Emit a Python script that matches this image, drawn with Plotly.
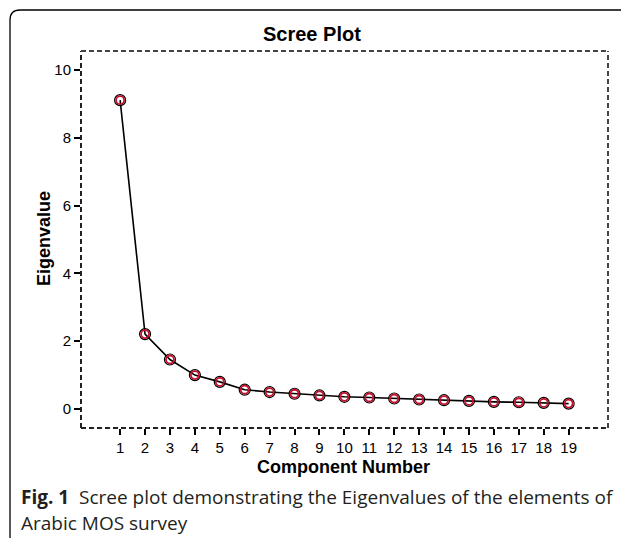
import plotly.graph_objects as go

components = list(range(1, 20))
eigenvalues = [9.11, 2.21, 1.46, 1.00, 0.80, 0.57, 0.50, 0.45, 0.40, 0.36,
               0.34, 0.31, 0.28, 0.26, 0.24, 0.21, 0.20, 0.18, 0.16]
y_ticks = [0, 2, 4, 6, 8, 10]

OFF = 8  # browser body margin
W, H = 629 - OFF * 2, 546 - OFF * 2
L, R, T, B = 81 - OFF, 608 - OFF, 51 - OFF, 428 - OFF  # plot area in figure px


def px(x):  # page px -> paper
    return (x - OFF - L) / (R - L)


def py(y):
    return (B - (y - OFF)) / (B - T)


fig = go.Figure()
fig.add_trace(go.Scatter(
    x=components, y=eigenvalues, mode="lines",
    line=dict(color="black", width=1.6), hoverinfo="skip", showlegend=False))
fig.add_trace(go.Scatter(
    x=components, y=eigenvalues, mode="markers",
    marker=dict(symbol="circle-open", size=11, color="black",
                line=dict(color="black", width=1.2)),
    showlegend=False))
fig.add_trace(go.Scatter(
    x=components, y=eigenvalues, mode="markers",
    marker=dict(symbol="circle-open", size=8, color="#c8102e",
                line=dict(color="#c8102e", width=1.8)),
    showlegend=False))

font = "Liberation Sans, Arial, sans-serif"

fig.update_layout(
    width=W, height=H,
    margin=dict(l=L, r=W - R, t=T, b=H - B),
    paper_bgcolor="white", plot_bgcolor="white",
    font=dict(family=font, color="black"),
    xaxis=dict(
        range=[-0.57, 20.58], tickvals=components, ticktext=[str(c) for c in components],
        ticks="outside", ticklen=6, tickwidth=1.5, tickcolor="black",
        showgrid=False, zeroline=False, showline=False,
        tickfont=dict(family=font, size=15, color="black"),
    ),
    yaxis=dict(
        range=[-0.56, 10.56], tickvals=y_ticks,
        ticks="outside", ticklen=6, tickwidth=1.5, tickcolor="black",
        showgrid=False, zeroline=False, showline=False,
        tickfont=dict(family=font, size=15, color="black"),
    ),
)

dash = "5px,3px"
shapes = []
shapes.append(dict(type="line", xref="paper", yref="paper", x0=0, x1=0, y0=0, y1=1,
                   line=dict(color="#222", width=2, dash=dash)))
shapes.append(dict(type="line", xref="paper", yref="paper", x0=0, x1=1, y0=0, y1=0,
                   line=dict(color="#222", width=2, dash=dash)))
shapes.append(dict(type="line", xref="paper", yref="paper", x0=0, x1=1, y0=1, y1=1,
                   line=dict(color="#444", width=2, dash=dash)))
shapes.append(dict(type="line", xref="paper", yref="paper", x0=1, x1=1, y0=0, y1=1,
                   line=dict(color="#444", width=2, dash=dash)))
# outer rounded frame
path = (f"M {px(640)},{py(10)} L {px(20)},{py(10)} "
        f"Q {px(10)},{py(10)} {px(10)},{py(20)} "
        f"L {px(10)},{py(536)} Q {px(10)},{py(546)} {px(20)},{py(548)}")
shapes.append(dict(type="path", xref="paper", yref="paper", path=path,
                   line=dict(color="black", width=1.3)))
fig.update_layout(shapes=shapes)

fig.add_annotation(text="<b>Scree Plot</b>", xref="paper", yref="paper",
                   x=px(312), y=py(34), xanchor="center", yanchor="middle",
                   showarrow=False, font=dict(family=font, size=20, color="black"))
fig.add_annotation(text="<b>Component Number</b>", xref="paper", yref="paper",
                   x=px(343), y=py(467), xanchor="center", yanchor="middle",
                   showarrow=False, font=dict(family=font, size=18, color="black"))
fig.add_annotation(text="<b>Eigenvalue</b>", xref="paper", yref="paper",
                   x=px(44), y=py(239), xanchor="center", yanchor="middle", textangle=-90,
                   showarrow=False, font=dict(family=font, size=18, color="black"))

cap_font = "Open Sans, Noto Sans, sans-serif"
fig.add_annotation(
    text="<b>Fig. 1</b>  Scree plot demonstrating the Eigenvalues of the elements of",
    xref="paper", yref="paper", x=px(19), y=py(497), xanchor="left", yanchor="middle",
    showarrow=False, font=dict(family=cap_font, size=19, color="#231f20"))
fig.add_annotation(
    text="Arabic MOS survey",
    xref="paper", yref="paper", x=px(19), y=py(537.5), xanchor="left", yanchor="bottom",
    showarrow=False, font=dict(family=cap_font, size=19, color="#231f20"))

fig.write_html("out.html")
